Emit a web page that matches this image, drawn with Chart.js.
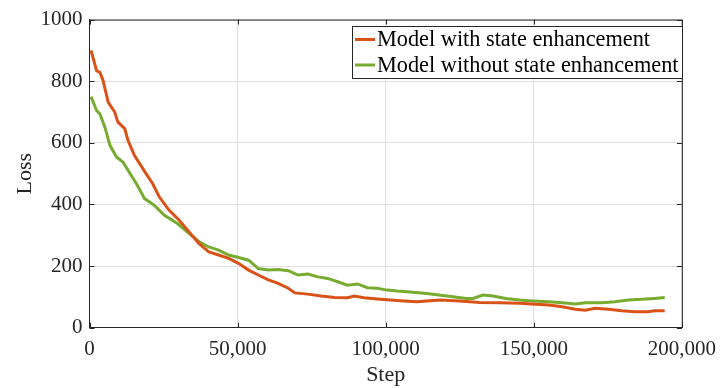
<!DOCTYPE html>
<html>
<head>
<meta charset="utf-8">
<script src="https://cdn.jsdelivr.net/npm/chart.js@4/dist/chart.umd.min.js"></script>
<style>
  html, body { margin: 0; padding: 0; background: #ffffff; }
  #wrap { width: 725px; height: 388px; }
</style>
</head>
<body>
<div id="wrap"><canvas id="c" width="725" height="388"></canvas></div>
<script>
// Training loss curves
const seriesNames = ['Model with state enhancement', 'Model without state enhancement'];
const seriesColors = ['#D95319', '#77AC30'];

const withSteps = [500, 2400, 3500, 4600, 6300, 8500, 9600, 11900, 13000, 15200, 19100, 21300, 23600, 26900,
  30300, 33600, 37000, 40300, 43600, 47000, 50300, 53700, 57000, 60400, 63700, 67100, 69300, 73700, 78200,
  82700, 87100, 89400, 92700, 97200, 101600, 106100, 110500, 118300, 125000, 131700, 138400, 145100, 150700,
  155100, 159600, 164000, 167400, 170700, 175200, 179700, 184100, 188600, 190800, 194200];
const withLoss = [900, 834, 829, 802, 732, 700, 667, 646, 608, 559, 500, 468, 424, 381,
  349, 311, 273, 246, 236, 225, 209, 187, 171, 155, 144, 128, 113, 109, 103,
  98, 97, 103, 97, 93, 90, 87, 84, 90, 87, 82, 81, 79, 76,
  74, 68, 60, 57, 63, 60, 55, 52, 52, 55, 55];

const withoutSteps = [500, 2400, 3500, 5200, 6900, 9100, 11300, 13000, 15800, 18600, 21900, 25300, 29700,
  33600, 37000, 40300, 43600, 47000, 50300, 53700, 57000, 60400, 63700, 67100, 70400, 73700, 77100, 80400,
  83800, 87100, 90500, 93800, 97200, 100500, 103900, 107200, 113900, 120600, 127300, 129500, 132800, 136200,
  140600, 145100, 149600, 155100, 159600, 164000, 167400, 173000, 177400, 181900, 186400, 190800, 194200];
const withoutLoss = [750, 705, 694, 651, 592, 554, 538, 511, 468, 419, 397, 365, 338,
  306, 279, 262, 252, 236, 228, 219, 192, 187, 189, 185, 171, 174, 165, 160,
  149, 138, 142, 130, 128, 122, 119, 117, 111, 103, 95, 95, 106, 103,
  95, 90, 87, 84, 81, 77, 81, 81, 84, 90, 92, 95, 98];

const xTicks = [0, 50000, 100000, 150000, 200000];
const yTicks = [0, 200, 400, 600, 800, 1000];

const toPoints = (xs, ys) => xs.map((x, i) => ({ x: x, y: ys[i] }));

const FONT = "'Liberation Serif', 'Times New Roman', serif";
const INK = '#262626';

Chart.defaults.font.family = FONT;
Chart.defaults.color = INK;

// Inward tick marks on all four sides plus the top/right frame
const framePlugin = {
  id: 'frame',
  afterDraw(chart) {
    const { ctx, chartArea: a, scales } = chart;
    const len = 5;
    ctx.save();
    ctx.strokeStyle = INK;
    ctx.lineWidth = 1;
    ctx.beginPath();
    ctx.moveTo(a.left, a.top + 0.5);
    ctx.lineTo(a.right + 0.5, a.top + 0.5);
    ctx.lineTo(a.right + 0.5, a.bottom);
    ctx.stroke();
    ctx.beginPath();
    xTicks.forEach(v => {
      const px = Math.round(scales.x.getPixelForValue(v)) + 0.5;
      ctx.moveTo(px, a.bottom); ctx.lineTo(px, a.bottom - len);
      ctx.moveTo(px, a.top); ctx.lineTo(px, a.top + len);
    });
    yTicks.forEach(v => {
      const py = Math.round(scales.y.getPixelForValue(v)) + 0.5;
      ctx.moveTo(a.left, py); ctx.lineTo(a.left + len, py);
      ctx.moveTo(a.right, py); ctx.lineTo(a.right - len, py);
    });
    ctx.stroke();
    ctx.restore();
  }
};

// Boxed legend in the upper right of the plot
const legendBoxPlugin = {
  id: 'legendBox',
  afterDraw(chart) {
    const { ctx } = chart;
    const box = { left: 352.5, top: 26.5, right: 682.5, bottom: 78.5 };
    const rows = [39.5, 65];
    ctx.save();
    ctx.fillStyle = '#ffffff';
    ctx.fillRect(box.left, box.top, box.right - box.left, box.bottom - box.top);
    ctx.strokeStyle = INK;
    ctx.lineWidth = 1;
    ctx.strokeRect(box.left, box.top, box.right - box.left, box.bottom - box.top);
    ctx.font = '22.3px ' + FONT;
    ctx.textBaseline = 'middle';
    chart.data.datasets.forEach((ds, i) => {
      const y = rows[i];
      ctx.strokeStyle = ds.borderColor;
      ctx.lineWidth = 3;
      ctx.beginPath();
      ctx.moveTo(355, y);
      ctx.lineTo(375, y);
      ctx.stroke();
      ctx.fillStyle = '#000000';
      ctx.fillText(ds.label, 377, y + 1);
    });
    ctx.restore();
  }
};

new Chart(document.getElementById('c'), {
  type: 'line',
  data: {
    datasets: [
      {
        label: seriesNames[0],
        data: toPoints(withSteps, withLoss),
        borderColor: seriesColors[0],
        borderWidth: 3,
        pointRadius: 0,
        tension: 0,
        fill: false
      },
      {
        label: seriesNames[1],
        data: toPoints(withoutSteps, withoutLoss),
        borderColor: seriesColors[1],
        borderWidth: 3,
        pointRadius: 0,
        tension: 0,
        fill: false
      }
    ]
  },
  options: {
    responsive: false,
    animation: false,
    events: [],
    layout: { padding: { top: 19, right: 37.5, left: 0, bottom: 0 } },
    plugins: {
      legend: { display: false },
      tooltip: { enabled: false }
    },
    scales: {
      x: {
        type: 'linear',
        min: 0,
        max: 200000,
        afterFit(scale) { scale.height = 60.3; },
        afterBuildTicks(scale) { scale.ticks = xTicks.map(v => ({ value: v })); },
        ticks: {
          font: { size: 21 },
          color: INK,
          padding: 9,
          maxRotation: 0,
          callback: v => v.toLocaleString('en-US')
        },
        grid: { color: '#e0e0e0', drawTicks: false },
        border: { display: true, color: INK, width: 1 },
        title: { display: true, text: 'Step', font: { size: 22 }, color: INK, padding: 0 }
      },
      y: {
        min: 0,
        max: 1000,
        afterFit(scale) { scale.width = 89.5; },
        afterBuildTicks(scale) { scale.ticks = yTicks.map(v => ({ value: v })); },
        ticks: {
          font: { size: 21 },
          color: INK,
          padding: 7,
          callback: v => String(v)
        },
        grid: { color: '#e0e0e0', drawTicks: false },
        border: { display: true, color: INK, width: 1 },
        title: { display: true, text: 'Loss', font: { size: 22 }, color: INK, padding: 12 }
      }
    }
  },
  plugins: [framePlugin, legendBoxPlugin]
});
</script>
</body>
</html>
